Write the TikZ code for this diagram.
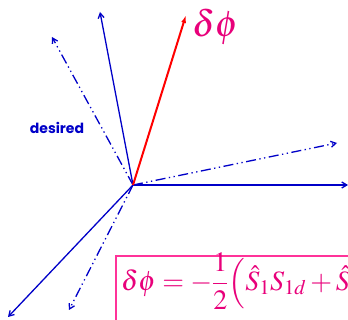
\documentclass[tikz,border=0pt]{standalone}
\usepackage{amsmath}
\usepackage{mathptmx}
\usepackage{fontspec}
\newfontfamily\dsfont{Poppins}
\usetikzlibrary{arrows.meta}
\definecolor{vblue}{RGB}{0,0,200}
\definecolor{vred}{RGB}{255,0,0}
\definecolor{vpink}{RGB}{232,0,122}
\definecolor{bpink}{RGB}{255,51,153}
\tikzset{
  vec/.style  = {-{Straight Barb[length=5pt,width=6pt]}, vblue, line width=1.3pt},
  dvec/.style = {vec, dash pattern=on 10pt off 3.5pt on 1.3pt off 3.5pt on 1.3pt off 3.5pt},
  rvec/.style = {-{Latex[length=8pt,width=5pt]}, vred, line width=2pt},
  tag/.style  = {font=\dsfont\bfseries\fontsize{14}{16}\selectfont, text=vblue},
  big/.style  = {text=vpink, font=\fontsize{28}{34}\selectfont, inner sep=0pt},
}
\begin{document}
\begin{tikzpicture}[x=1pt,y=-1pt]
\useasboundingbox (0,0) rectangle (348,320);
\clip (0,0) rectangle (348,320);
% end points
\coordinate (O) at (133,185);
\coordinate (up) at (100,12);
\coordinate (right) at (348,185);
\coordinate (downleft) at (8,317);
\coordinate (dphi) at (186,15);
\coordinate (d1) at (52,37);
\coordinate (d2) at (337,143);
\coordinate (d3) at (69,310);
% actual vectors
\draw[vec] (O) -- (up);
\draw[vec] (O) -- (right);
\draw[vec] (O) -- (downleft);
% desired vectors
\draw[dvec] (O) -- (d1);
\draw[dvec] (O) -- (d2);
\draw[dvec] (O) -- (d3);
% rotation
\draw[rvec] (O) -- (dphi);
\node[big, font=\fontsize{37}{42}\selectfont, anchor=west] (lab) at (192,27) {$\delta\phi$};
\node[tag] (des) at (57,128) {desired};
% formula
\draw[bpink, line width=1.5pt] (116,340) -- (116,256) -- (360,256);
\node[big, anchor=west] (eq) at (121,281)
  {$\displaystyle \delta\phi = -\frac{1}{2}\Big(\hat{S}_1 S_{1d} + \hat{S}_2$};
\end{tikzpicture}
\end{document}
